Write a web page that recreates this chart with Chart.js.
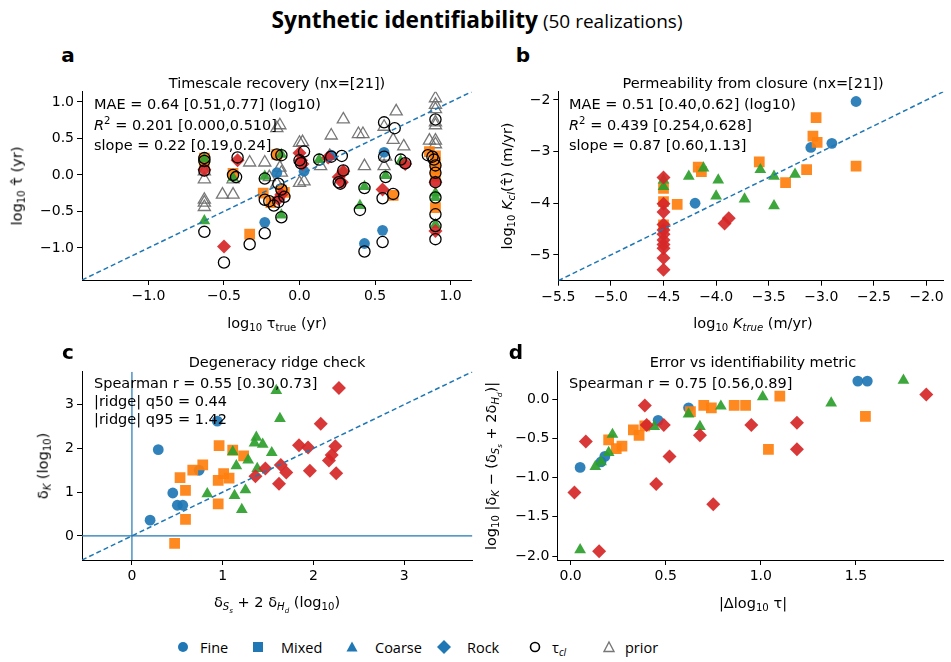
<!DOCTYPE html>
<html>
<head>
<meta charset="utf-8">
<script src="https://cdn.jsdelivr.net/npm/chart.js@4.4.1/dist/chart.umd.min.js"></script>
<style>
body { margin: 0; background: #fff; }
#fig { position: relative; width: 951px; height: 662px; overflow: hidden; font-family: 'DejaVu Sans', sans-serif; color: #000; }
.cv { position: absolute; }
.t { position: absolute; white-space: nowrap; font-size: 14.5px; line-height: 1; }
.c { transform: translate(-50%, -50%); }
.l { transform: translate(0, -50%); }
.r { transform: translate(-50%, -50%) rotate(-90deg); }
sub { font-size: 70%; vertical-align: -0.3em; line-height: 0; }
sup { font-size: 70%; vertical-align: 0.55em; line-height: 0; }
.lt { font-weight: bold; font-size: 20px; }
#title { font-family: 'Open Sans', sans-serif; font-size: 19px; }
.lg { position: absolute; top: 647px; transform: translate(0, -50%); font-family: 'Open Sans', sans-serif; font-size: 14.5px; white-space: nowrap; }
.mk { position: absolute; top: 647px; transform: translate(-50%, -50%); }
</style>
</head>
<body>
<div id="fig">
  <canvas id="ca" class="cv" width="480" height="245" style="left:0;top:80px"></canvas>
  <canvas id="cb" class="cv" width="471" height="245" style="left:480px;top:80px"></canvas>
  <canvas id="cc" class="cv" width="480" height="245" style="left:0;top:360px"></canvas>
  <canvas id="cd" class="cv" width="471" height="245" style="left:480px;top:360px"></canvas>

  <div id="title" class="t c" style="left:477px;top:20px"><b style="font-size:22.7px">Synthetic identifiability</b> (50 realizations)</div>

  <div class="t c lt" style="left:68px;top:55px">a</div>
  <div class="t c lt" style="left:523px;top:55px">b</div>
  <div class="t c lt" style="left:68px;top:352px">c</div>
  <div class="t c lt" style="left:516px;top:352px">d</div>

  <div class="t c" style="left:277px;top:83px">Timescale recovery (nx=[21])</div>
  <div class="t c" style="left:753px;top:83px">Permeability from closure (nx=[21])</div>
  <div class="t c" style="left:277px;top:362px">Degeneracy ridge check</div>
  <div class="t c" style="left:753px;top:362px">Error vs identifiability metric</div>

  <div class="t l" style="left:94px;top:104px">MAE = 0.64 [0.51,0.77] (log10)</div>
  <div class="t l" style="left:94px;top:125px"><i>R</i><sup>2</sup> = 0.201 [0.000,0.510]</div>
  <div class="t l" style="left:94px;top:145px">slope = 0.22 [0.19,0.24]</div>

  <div class="t l" style="left:569px;top:104px">MAE = 0.51 [0.40,0.62] (log10)</div>
  <div class="t l" style="left:569px;top:125px"><i>R</i><sup>2</sup> = 0.439 [0.254,0.628]</div>
  <div class="t l" style="left:569px;top:145px">slope = 0.87 [0.60,1.13]</div>

  <div class="t l" style="left:94px;top:383px">Spearman r = 0.55 [0.30,0.73]</div>
  <div class="t l" style="left:94px;top:401px">|ridge| q50 = 0.44</div>
  <div class="t l" style="left:94px;top:419px">|ridge| q95 = 1.42</div>

  <div class="t l" style="left:569px;top:383px">Spearman r = 0.75 [0.56,0.89]</div>

  <div class="t c" style="left:277px;top:323px">log<sub>10</sub> τ<sub>true</sub> (yr)</div>
  <div class="t r" style="left:17px;top:186px">log<sub>10</sub> τ̂ (yr)</div>
  <div class="t c" style="left:753px;top:323px">log<sub>10</sub> <i>K<sub>true</sub></i> (m/yr)</div>
  <div class="t r" style="left:507px;top:186px">log<sub>10</sub> <i>K<sub>cl</sub></i>(τ̂) (m/yr)</div>
  <div class="t c" style="left:277px;top:603px">δ<sub><i>S<sub>s</sub></i></sub> + 2 δ<sub><i>H<sub>d</sub></i></sub> (log<sub>10</sub>)</div>
  <div class="t r" style="left:43px;top:466px">δ<sub><i>K</i></sub> (log<sub>10</sub>)</div>
  <div class="t c" style="left:753px;top:603px">|Δlog<sub>10</sub> τ|</div>
  <div class="t r" style="left:492px;top:466px">log<sub>10</sub> |δ<sub><i>K</i></sub> − (δ<sub><i>S<sub>s</sub></i></sub> + 2δ<sub><i>H<sub>d</sub></i></sub>)|</div>

  <svg class="mk" style="left:183px" width="14" height="14"><circle cx="7" cy="7" r="5" fill="#1f77b4"/></svg>
  <div class="lg" style="left:200px">Fine</div>
  <svg class="mk" style="left:258px" width="14" height="14"><rect x="2" y="2" width="10" height="10" fill="#1f77b4"/></svg>
  <div class="lg" style="left:281px">Mixed</div>
  <svg class="mk" style="left:352px" width="14" height="14"><polygon points="7,1.5 12.5,11.5 1.5,11.5" fill="#1f77b4"/></svg>
  <div class="lg" style="left:375px">Coarse</div>
  <svg class="mk" style="left:444px" width="16" height="16"><polygon points="8,1 15,8 8,15 1,8" fill="#1f77b4"/></svg>
  <div class="lg" style="left:467px">Rock</div>
  <svg class="mk" style="left:535px" width="14" height="14"><circle cx="7" cy="7" r="4.5" fill="none" stroke="#000" stroke-width="1.6"/></svg>
  <div class="lg" style="left:552px">τ<sub><i>cl</i></sub></div>
  <svg class="mk" style="left:609px" width="14" height="14"><polygon points="7,2 12,11.5 2,11.5" fill="none" stroke="#777" stroke-width="1.4"/></svg>
  <div class="lg" style="left:625px">prior</div>
</div>

<script>
// ---------- panel a: timescale recovery ----------
var aLim = [-1.44, 1.14];
var aFineX = [-0.23, -0.15, 0.03, 0.21, 0.43, 0.56, 0.55];
var aFineY = [-0.65, 0.03, 0.05, 0.27, -0.94, 0.31, -0.76];
var aMixedX = [-0.63, -0.63, -0.44, -0.33, -0.24, -0.19, -0.15, -0.1, -0.12, 0.62, 0.86, 0.9, 0.9, 0.9, 0.9, 0.9];
var aMixedY = [0.23, 0.18, 0.02, -0.81, -0.25, -0.38, 0.28, -0.24, -0.21, -0.28, 0.32, 0.26, 0.17, 0.08, -0.02, -0.45];
var aCoarseX = [-0.63, -0.63, -0.44, -0.23, -0.12, -0.12, 0.13, 0.29, 0.4, 0.43, 0.57, 0.67, 0.9, 0.9, 0.9];
var aCoarseY = [0.22, -0.63, -0.04, -0.02, 0.28, -0.55, 0.21, 0.05, -0.42, -0.16, -0.01, 0.19, -0.25, -0.31, -0.68];
var aRockX = [-0.63, -0.5, -0.41, -0.14, -0.12, 0.0, 0.01, 0.02, 0.19, 0.26, 0.28, 0.29, 0.55, 0.7, 0.9, 0.9];
var aRockY = [0.07, -0.98, 0.2, -0.33, -0.27, 0.3, 0.2, 0.15, 0.24, -0.03, -0.1, 0.05, -0.2, 0.15, -0.1, -0.77];
var aClX = [-0.63, -0.63, -0.63, -0.63, -0.5, -0.44, -0.42, -0.41, -0.33, -0.23, -0.23, -0.23, -0.2, -0.17, -0.15, -0.14,
            -0.12, -0.12, -0.12, -0.1, -0.14, 0.0, 0.01, 0.03, 0.13, 0.21, 0.28, 0.26, 0.27, 0.29, 0.4, 0.43,
            0.43, 0.56, 0.56, 0.55, 0.55, 0.57, 0.63, 0.62, 0.67, 0.7, 0.85, 0.88, 0.89, 0.9, 0.9, 0.9,
            0.9, 0.9, 0.9, 0.9, 0.9];
var aClY = [0.23, 0.19, 0.06, -0.78, -1.2, 0.0, -0.03, 0.24, -0.95, -0.8, -0.05, -0.34, -0.36, -0.42, 0.28, -0.12,
            -0.2, 0.27, -0.58, -0.3, -0.37, 0.2, 0.16, 0.32, 0.21, 0.25, 0.26, -0.1, -0.12, 0.06, -0.48, -0.18,
            -1.05, 0.25, 0.72, -0.32, -0.92, -0.03, 0.64, -0.26, 0.21, 0.16, 0.27, 0.25, 0.21, 0.13, 0.03, -0.1,
            -0.31, -0.54, -0.7, -0.88, 0.76];
var aPriorX = [-0.63, -0.63, -0.63, -0.63, -0.63, -0.51, -0.44, -0.44, -0.33, -0.23, -0.2, -0.15, -0.13, -0.13, -0.12, -0.15,
               0.0, 0.02, 0.0, 0.03, 0.14, 0.2, 0.21, 0.29, 0.39, 0.42, 0.43, 0.56, 0.56, 0.57, 0.62, 0.64,
               0.69, 0.86, 0.9, 0.9, 0.9, 0.9, 0.9, 0.9, 0.9];
var aPriorY = [0.05, -0.06, -0.34, -0.38, -0.44, -0.27, -0.27, -0.06, 0.17, 0.17, -0.03, 0.64, 0.68, 0.1, 0.03, -0.12,
               0.44, 0.45, -0.11, -0.09, 0.12, 0.26, 0.54, 0.76, 0.56, 0.56, 0.12, 0.66, 0.12, 0.25, 0.48, 0.87,
               0.39, 0.47, 1.05, 0.96, 0.9, 0.72, 0.68, 0.47, 0.42];

// ---------- panel b: permeability from closure ----------
var bLim = [-5.5, -1.84];
var bFineX = [-2.67, -3.1, -2.9, -4.2];
var bFineY = [-2.03, -2.92, -2.84, -4.0];
var bMixedX = [-3.05, -3.08, -3.04, -2.67, -3.14, -3.59, -3.34, -4.17, -4.14, -4.37, -4.5, -4.5, -4.5];
var bMixedY = [-2.34, -2.7, -2.82, -3.28, -3.35, -3.2, -3.6, -3.3, -3.39, -4.02, -3.71, -3.97, -4.42];
var bCoarseX = [-4.26, -4.12, -3.98, -4.0, -3.73, -3.58, -3.45, -3.25, -3.45, -4.5, -4.5];
var bCoarseY = [-3.48, -3.32, -3.55, -3.86, -3.92, -3.35, -3.48, -3.44, -4.05, -3.55, -3.68];
var bRockX = [-4.5, -4.5, -4.5, -4.5, -4.5, -4.5, -4.5, -4.5, -4.5, -4.5, -4.5, -3.92, -3.88];
var bRockY = [-3.5, -4.01, -4.17, -4.41, -4.52, -4.6, -4.71, -4.87, -5.06, -5.29, -4.8, -4.39, -4.29];

// ---------- panel c: degeneracy ridge ----------
var cLim = [-0.55, 3.75];
var cFineX = [0.29, 0.94, 0.2, 0.45, 0.5, 0.56, 0.74];
var cFineY = [1.97, 2.62, 0.36, 0.98, 0.7, 0.7, 1.5];
var cMixedX = [0.47, 0.53, 0.59, 0.59, 0.67, 0.78, 0.96, 1.11, 1.23, 0.95, 1.01, 1.07, 0.95];
var cMixedY = [-0.17, 1.33, 1.04, 0.38, 1.5, 1.62, 2.06, 1.96, 1.83, 1.27, 1.42, 1.32, 0.73];
var cCoarseX = [1.59, 1.63, 1.37, 1.35, 1.44, 1.54, 1.11, 1.15, 1.28, 1.38, 0.83, 1.13, 1.25, 1.21];
var cCoarseY = [3.32, 2.68, 2.25, 2.12, 2.09, 1.9, 1.92, 1.6, 1.73, 1.54, 0.96, 0.92, 1.05, 0.6];
var cRockX = [2.28, 2.08, 1.84, 1.94, 2.24, 2.2, 2.17, 1.96, 2.25, 1.64, 1.7, 1.47, 1.36, 1.62];
var cRockY = [3.38, 2.56, 2.07, 2.02, 2.05, 1.85, 1.72, 1.49, 1.43, 1.62, 1.45, 1.54, 1.36, 1.19];

// ---------- panel d: error vs identifiability ----------
var dLimX = [-0.07, 1.96];
var dLimY = [-2.05, 0.35];
var dFineX = [0.05, 0.16, 0.18, 0.46, 0.62, 1.51, 1.56];
var dFineY = [-0.87, -0.8, -0.73, -0.27, -0.11, 0.23, 0.23];
var dMixedX = [0.2, 0.24, 0.27, 0.33, 0.36, 0.39, 0.63, 0.7, 0.74, 0.86, 0.92, 1.04, 1.1, 1.55];
var dMixedY = [-0.52, -0.63, -0.6, -0.39, -0.46, -0.34, -0.16, -0.08, -0.11, -0.08, -0.08, -0.64, 0.04, -0.22];
var dCoarseX = [0.05, 0.13, 0.16, 0.2, 0.22, 0.44, 0.62, 0.68, 0.79, 1.01, 1.37, 1.75];
var dCoarseY = [-1.92, -0.86, -0.8, -0.68, -0.45, -0.35, -0.19, -0.35, -0.09, 0.03, -0.05, 0.24];
var dRockX = [0.02, 0.08, 0.15, 0.39, 0.4, 0.49, 0.52, 0.45, 0.68, 0.75, 0.95, 1.19, 1.19, 1.87];
var dRockY = [-1.19, -0.54, -1.94, -0.08, -0.33, -0.33, -0.73, -1.08, -0.46, -1.34, -0.33, -0.3, -0.64, 0.06];

var BLUE = 'rgba(31,119,180,0.92)';
var ORANGE = 'rgba(255,127,14,0.92)';
var GREEN = 'rgba(44,160,44,0.92)';
var RED = 'rgba(214,39,40,0.92)';

function pts(xs, ys) {
    return xs.map(function(x, i) { return {x: x, y: ys[i]}; });
}

function fmt1(v) {
    if (Math.abs(v) < 1e-9) v = 0;
    return v.toFixed(1).replace('-', '\u2212');
}
function fmt0(v) {
    if (Math.abs(v) < 1e-9) v = 0;
    return String(Math.round(v)).replace('-', '\u2212');
}

function filled(label, xs, ys, style, r, color, order) {
    return {
        label: label, data: pts(xs, ys), order: order,
        pointStyle: style, pointRadius: r,
        pointBackgroundColor: color, pointBorderColor: color, pointBorderWidth: 0
    };
}

function groups(fx, fy, mx, my, cx, cy, rx, ry) {
    return [
        filled('Fine', fx, fy, 'circle', 5.4, BLUE, 5),
        filled('Mixed', mx, my, 'rect', 7.6, ORANGE, 4),
        filled('Coarse', cx, cy, 'triangle', 6.8, GREEN, 3),
        filled('Rock', rx, ry, 'rectRot', 7, RED, 2)
    ];
}

function refLine(xs, ys, dashed) {
    return {
        data: pts(xs, ys), showLine: true, order: 0,
        borderColor: '#1f77b4', borderWidth: dashed ? 1.5 : 1.2,
        borderDash: dashed ? [5, 3] : [], pointRadius: 0
    };
}

function eixo(pos, lim, step, fmt, size) {
    return {
        type: 'linear', position: pos, min: lim[0], max: lim[1],
        ticks: {
            stepSize: step, includeBounds: false, callback: fmt, color: '#000',
            font: {family: 'DejaVu Sans', size: 14}, padding: 3, maxRotation: 0, autoSkip: false
        },
        grid: {display: true, drawOnChartArea: false, drawTicks: true, tickLength: 5, color: '#000', lineWidth: 1},
        border: {display: true, color: '#000', width: 1},
        afterFit: function(s) {
            if (pos === 'left') s.width = size; else s.height = size;
        }
    };
}

function montaPainel(id, datasets, xAxis, yAxis, padRight) {
    new Chart(document.getElementById(id), {
        type: 'scatter',
        data: {datasets: datasets},
        options: {
            responsive: false, animation: false, devicePixelRatio: 1, events: [],
            layout: {padding: {left: 0, right: padRight, top: 11.7, bottom: 0}},
            plugins: {legend: {display: false}, tooltip: {enabled: false}, title: {display: false}},
            scales: {x: xAxis, y: yAxis}
        }
    });
}

// panel a
var dsA = groups(aFineX, aFineY, aMixedX, aMixedY, aCoarseX, aCoarseY, aRockX, aRockY);
dsA.push({
    label: 'tau_cl', data: pts(aClX, aClY), order: 1, pointStyle: 'circle', pointRadius: 5.6,
    pointBackgroundColor: 'rgba(0,0,0,0)', pointBorderColor: '#000', pointBorderWidth: 1.3
});
dsA.push({
    label: 'prior', data: pts(aPriorX, aPriorY), order: 6, pointStyle: 'triangle', pointRadius: 7,
    pointBackgroundColor: 'rgba(0,0,0,0)', pointBorderColor: 'rgba(105,105,105,0.9)', pointBorderWidth: 1.3
});
dsA.push(refLine(aLim, aLim, true));
montaPainel('ca', dsA, eixo('bottom', aLim, 0.5, fmt1, 45), eixo('left', aLim, 0.5, fmt1, 82), 7);

// panel b
var dsB = groups(bFineX, bFineY, bMixedX, bMixedY, bCoarseX, bCoarseY, bRockX, bRockY);
dsB.push(refLine(bLim, bLim, true));
montaPainel('cb', dsB, eixo('bottom', bLim, 0.5, fmt1, 44.3), eixo('left', bLim, 1, fmt0, 78.3), 3);

// panel c
var dsC = groups(cFineX, cFineY, cMixedX, cMixedY, cCoarseX, cCoarseY, cRockX, cRockY);
dsC.push(refLine(cLim, cLim, true));
dsC.push(refLine([0, 0], cLim, false));
dsC.push(refLine(cLim, [0, 0], false));
montaPainel('cc', dsC, eixo('bottom', cLim, 1, fmt0, 45), eixo('left', cLim, 1, fmt0, 82), 7);

// panel d
var dsD = groups(dFineX, dFineY, dMixedX, dMixedY, dCoarseX, dCoarseY, dRockX, dRockY);
montaPainel('cd', dsD, eixo('bottom', dLimX, 0.5, fmt1, 45), eixo('left', dLimY, 0.5, fmt1, 77.3), 3);
</script>
</body>
</html>
